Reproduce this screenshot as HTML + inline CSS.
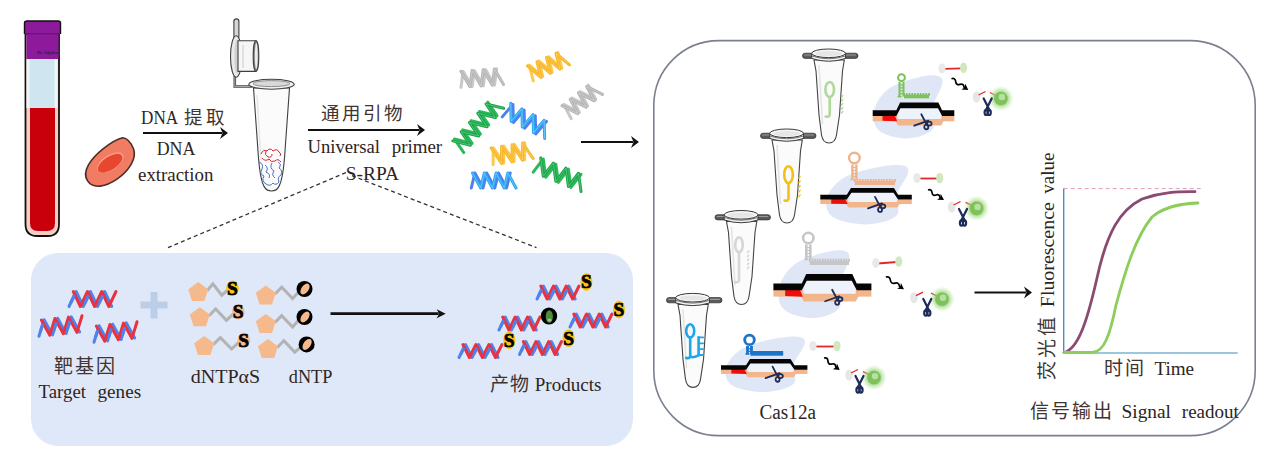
<!DOCTYPE html>
<html lang="zh-CN"><head><meta charset="utf-8"><title>S-RPA Cas12a</title>
<style>html,body{margin:0;padding:0;background:#fff;width:1270px;height:455px;overflow:hidden}svg{display:block}text{font-family:"Liberation Serif",serif}</style>
</head><body>
<svg width="1270" height="455" viewBox="0 0 1270 455"><defs><radialGradient id="glow"><stop offset="0.45" stop-color="#8fd070" stop-opacity="0.9"/><stop offset="1" stop-color="#c8ecb4" stop-opacity="0"/></radialGradient></defs><rect x="653.8" y="40.6" width="601.4" height="395" rx="65" ry="65" fill="none" stroke="#7b8090" stroke-width="1.6"/>
<rect x="31" y="253" width="602" height="193" rx="27" ry="27" fill="#dfe8f8"/>
<g>
<path d="M25.5,34 L25.5,224 Q25.5,236 37,236 L48,236 Q59,236 59,224 L59,34 Z" fill="#f6cfc4" stroke="#111" stroke-width="1.8"/>
<rect x="26.5" y="34" width="32" height="25" fill="#8d1a9b"/>
<rect x="27" y="59" width="31" height="49" fill="#cfe5ef"/>
<rect x="26.5" y="59" width="3" height="49" fill="#eef6fa"/>
<rect x="54.5" y="59" width="3" height="49" fill="#eef6fa"/>
<path d="M30,108 L55,108 L55,223 Q55,231 47,231 L38,231 Q30,231 30,223 Z" fill="#c9000b"/>
<path d="M24.5,34 L24.5,23 Q24.5,21 27,21 L58,21 Q60.5,21 60.5,23 L60.5,34" fill="#8d1a9b" stroke="#111" stroke-width="1.4"/><rect x="25.5" y="33" width="34" height="1.4" fill="#6f1180"/>
<text x="37" y="54" font-size="5" font-weight="bold" fill="#2a2a2a" font-family="Liberation Sans, sans-serif" textLength="21" lengthAdjust="spacingAndGlyphs">BcAlpha</text>
</g>
<g transform="translate(110,164) rotate(-33)">
<path d="M-28,2 C-28,-10 -12,-15 2,-16.5 C14,-17.5 20,-17 25,-15 C29,-12 29,-6 28,0 C26,10 12,16 -2,16.5 C-16,17 -28,12 -28,2 Z" fill="#f27c63" stroke="#4a2f28" stroke-width="1.6"/>
<ellipse cx="1" cy="-1" rx="15" ry="7.5" fill="#f9a08c"/>
<ellipse cx="0.5" cy="-0.5" rx="14" ry="6.6" fill="#e8462e"/>
</g>
<line x1="143" y1="133" x2="222" y2="133" stroke="#111" stroke-width="2.2"/>
<path d="M228,133 L220,127 L222.5,133 L220,139 Z" fill="#111"/>
<g stroke="#3f3f3f" stroke-width="1.1">
<rect x="233.9" y="18.9" width="5" height="20" rx="2.5" fill="#d6d6d6"/>
<path d="M234.8,76 L234.8,86.5 L252,86.5" fill="none" stroke="#4a4a4a" stroke-width="2.6"/>
<path d="M234.8,76 L234.8,86.5 L252,86.5" fill="none" stroke="#bdbdbd" stroke-width="0.8"/>
<ellipse cx="236.2" cy="56.5" rx="5.7" ry="20.8" fill="#e9e9e9"/>
<ellipse cx="237" cy="56.5" rx="2.6" ry="17" fill="#d0d0d0" stroke="none"/>
<path d="M238,40.7 L256,40.7 L256,71.4 L238,71.4 Z" fill="#f6f6f6"/>
<path d="M243,45 L243,68" stroke="#d8d8d8" stroke-width="1.5"/>
<ellipse cx="256" cy="56" rx="2.8" ry="15.3" fill="#8a8a8a"/>
<ellipse cx="256.3" cy="56" rx="1.4" ry="13" fill="#eee" stroke="none"/>
<path d="M253.5,88 L289.5,88 L284.5,158 C282,189 277,191 271.5,191 C266,191 261,189 258.5,158 Z" fill="#fbfbfb"/>
<path d="M257,95 L261,160" stroke="#e6e6e6" stroke-width="1.5"/>
<ellipse cx="271.5" cy="84.2" rx="22.7" ry="5" fill="#f2f2f2"/>
<ellipse cx="271.5" cy="83.6" rx="18.5" ry="3" fill="#d9d9d9" stroke="#777" stroke-width="0.8"/>
</g>
<path d="M261,154 q2,-5 6,-3 q3,-4 6,0 q4,-3 6,1 q3,2 1,4 M262,158 q3,4 7,1 q2,4 6,2 q3,-3 6,1 M266,151 q-2,4 2,6 q4,1 4,-3" fill="none" stroke="#e0202a" stroke-width="1"/>
<path d="M259,162 q5,2 3,7 q-3,5 2,7 q-3,5 2,8 q4,3 7,-1 q3,3 6,-1 q-2,-5 2,-7 q2,-5 -2,-7 q3,-4 -1,-6 M265,165 q4,3 1,7 q5,2 3,6 M272,163 q-3,5 2,8 q-3,4 1,7" fill="none" stroke="#4a70c8" stroke-width="1"/>
<line x1="308" y1="130" x2="419" y2="130" stroke="#111" stroke-width="2.2"/>
<path d="M425,130 L417,124 L419.5,130 L417,136 Z" fill="#111"/>
<path d="M168,247.6 L346,172.6 M352,175.7 L536.5,247.6" stroke="#333" stroke-width="1.3" stroke-dasharray="4,3" fill="none"/>
<g transform="rotate(-4 480.5 78.0) translate(458,70)"><path d="M2.40,16.00 L5.61,0.00 L13.61,16.00 L16.82,0.00 L24.82,16.00 L28.03,0.00 L36.03,16.00 L39.24,0.00" fill="none" stroke="#c8c8c8" stroke-width="3" stroke-linejoin="round" stroke-linecap="round"/><path d="M3.36,0.00 L11.37,16.00 L14.57,0.00 L22.58,16.00 L25.78,0.00 L33.79,16.00 L36.99,0.00 L45.00,16.00" fill="none" stroke="#b4b4b4" stroke-width="3" stroke-linejoin="round" stroke-linecap="round"/><path d="M3.36,0.00 L11.37,16.00 L14.57,0.00 L22.58,16.00 L25.78,0.00 L33.79,16.00 L36.99,0.00 L45.00,16.00" fill="none" stroke="#eee" stroke-width="0.6" opacity="0.6"/></g>
<g transform="rotate(-24 547.0 66.0) translate(526,58)"><path d="M2.40,16.00 L5.21,0.00 L12.82,16.00 L15.63,0.00 L23.24,16.00 L26.05,0.00 L33.66,16.00 L36.47,0.00" fill="none" stroke="#ffc84a" stroke-width="3" stroke-linejoin="round" stroke-linecap="round"/><path d="M3.13,0.00 L10.74,16.00 L13.55,0.00 L21.16,16.00 L23.97,0.00 L31.58,16.00 L34.39,0.00 L42.00,16.00" fill="none" stroke="#f7b526" stroke-width="3" stroke-linejoin="round" stroke-linecap="round"/><path d="M3.13,0.00 L10.74,16.00 L13.55,0.00 L21.16,16.00 L23.97,0.00 L31.58,16.00 L34.39,0.00 L42.00,16.00" fill="none" stroke="#ffe9a8" stroke-width="0.6" opacity="0.6"/></g>
<g transform="rotate(-38 581.0 101.0) translate(560,93)"><path d="M2.40,16.00 L5.21,0.00 L12.82,16.00 L15.63,0.00 L23.24,16.00 L26.05,0.00 L33.66,16.00 L36.47,0.00" fill="none" stroke="#c8c8c8" stroke-width="3" stroke-linejoin="round" stroke-linecap="round"/><path d="M3.13,0.00 L10.74,16.00 L13.55,0.00 L21.16,16.00 L23.97,0.00 L31.58,16.00 L34.39,0.00 L42.00,16.00" fill="none" stroke="#b4b4b4" stroke-width="3" stroke-linejoin="round" stroke-linecap="round"/><path d="M3.13,0.00 L10.74,16.00 L13.55,0.00 L21.16,16.00 L23.97,0.00 L31.58,16.00 L34.39,0.00 L42.00,16.00" fill="none" stroke="#eee" stroke-width="0.6" opacity="0.6"/></g>
<g transform="rotate(-48 477.0 126.0) translate(446,118)"><path d="M2.40,16.00 L6.21,0.00 L14.82,16.00 L18.62,0.00 L27.23,16.00 L31.04,0.00 L39.65,16.00 L43.46,0.00 L52.07,16.00 L55.88,0.00" fill="none" stroke="#2bb95a" stroke-width="3" stroke-linejoin="round" stroke-linecap="round"/><path d="M3.73,0.00 L12.33,16.00 L16.14,0.00 L24.75,16.00 L28.56,0.00 L37.17,16.00 L40.98,0.00 L49.58,16.00 L53.39,0.00 L62.00,16.00" fill="none" stroke="#17a546" stroke-width="3" stroke-linejoin="round" stroke-linecap="round"/><path d="M3.73,0.00 L12.33,16.00 L16.14,0.00 L24.75,16.00 L28.56,0.00 L37.17,16.00 L40.98,0.00 L49.58,16.00 L53.39,0.00 L62.00,16.00" fill="none" stroke="#bfe9cc" stroke-width="0.6" opacity="0.6"/></g>
<g transform="rotate(27 526.0 120.0) translate(501,112)"><path d="M2.40,16.00 L6.26,0.00 L14.93,16.00 L18.79,0.00 L27.45,16.00 L31.32,0.00 L39.98,16.00 L43.84,0.00" fill="none" stroke="#4f7ff0" stroke-width="3" stroke-linejoin="round" stroke-linecap="round"/><path d="M3.76,0.00 L12.42,16.00 L16.28,0.00 L24.95,16.00 L28.81,0.00 L37.47,16.00 L41.34,0.00 L50.00,16.00" fill="none" stroke="#2aa8f0" stroke-width="3" stroke-linejoin="round" stroke-linecap="round"/><path d="M3.76,0.00 L12.42,16.00 L16.28,0.00 L24.95,16.00 L28.81,0.00 L37.47,16.00 L41.34,0.00 L50.00,16.00" fill="none" stroke="#cdeaff" stroke-width="0.6" opacity="0.6"/></g>
<g transform="rotate(-9 510.5 153.5) translate(489,145)"><path d="M2.55,17.00 L5.32,0.00 L13.19,17.00 L15.97,0.00 L23.84,17.00 L26.61,0.00 L34.48,17.00 L37.26,0.00" fill="none" stroke="#ffc84a" stroke-width="3" stroke-linejoin="round" stroke-linecap="round"/><path d="M3.19,0.00 L11.07,17.00 L13.84,0.00 L21.71,17.00 L24.48,0.00 L32.36,17.00 L35.13,0.00 L43.00,17.00" fill="none" stroke="#f7b526" stroke-width="3" stroke-linejoin="round" stroke-linecap="round"/><path d="M3.19,0.00 L11.07,17.00 L13.84,0.00 L21.71,17.00 L24.48,0.00 L32.36,17.00 L35.13,0.00 L43.00,17.00" fill="none" stroke="#ffe9a8" stroke-width="0.6" opacity="0.6"/></g>
<g transform="rotate(0 492.5 180.5) translate(469,173)"><path d="M2.25,15.00 L5.89,0.00 L14.03,15.00 L17.66,0.00 L25.80,15.00 L29.44,0.00 L37.58,15.00 L41.22,0.00" fill="none" stroke="#4f7ff0" stroke-width="3" stroke-linejoin="round" stroke-linecap="round"/><path d="M3.53,0.00 L11.67,15.00 L15.31,0.00 L23.45,15.00 L27.09,0.00 L35.22,15.00 L38.86,0.00 L47.00,15.00" fill="none" stroke="#2aa8f0" stroke-width="3" stroke-linejoin="round" stroke-linecap="round"/><path d="M3.53,0.00 L11.67,15.00 L15.31,0.00 L23.45,15.00 L27.09,0.00 L35.22,15.00 L38.86,0.00 L47.00,15.00" fill="none" stroke="#cdeaff" stroke-width="0.6" opacity="0.6"/></g>
<g transform="rotate(22 559.0 174.0) translate(532,166)"><path d="M2.40,16.00 L6.79,0.00 L15.98,16.00 L20.37,0.00 L29.56,16.00 L33.95,0.00 L43.14,16.00 L47.53,0.00" fill="none" stroke="#2bb95a" stroke-width="3" stroke-linejoin="round" stroke-linecap="round"/><path d="M4.07,0.00 L13.26,16.00 L17.65,0.00 L26.84,16.00 L31.23,0.00 L40.42,16.00 L44.81,0.00 L54.00,16.00" fill="none" stroke="#17a546" stroke-width="3" stroke-linejoin="round" stroke-linecap="round"/><path d="M4.07,0.00 L13.26,16.00 L17.65,0.00 L26.84,16.00 L31.23,0.00 L40.42,16.00 L44.81,0.00 L54.00,16.00" fill="none" stroke="#bfe9cc" stroke-width="0.6" opacity="0.6"/></g>
<line x1="581" y1="142" x2="633" y2="142" stroke="#111" stroke-width="2.2"/>
<path d="M639,142 L631,136 L633.5,142 L631,148 Z" fill="#111"/>
<g transform="rotate(0 92.5 299.0) translate(69,291.5)"><path d="M0.00,15.00 L7.12,0.00 L14.24,15.00 L21.36,0.00 L28.48,15.00 L35.61,0.00 L42.73,15.00" fill="none" stroke="#4f82ea" stroke-width="3.0" stroke-linejoin="round" stroke-linecap="round"/><path d="M4.27,0.00 L11.39,15.00 L18.52,0.00 L25.64,15.00 L32.76,0.00 L39.88,15.00 L47.00,0.00" fill="none" stroke="#e8323f" stroke-width="3.0" stroke-linejoin="round" stroke-linecap="round"/><path d="M1.78,11.25 L5.34,3.75 M16.02,11.25 L19.58,3.75 M30.26,11.25 L33.83,3.75 " fill="none" stroke="#4f82ea" stroke-width="3.0" stroke-linecap="butt"/></g>
<g transform="rotate(-6 60.5 326.0) translate(38,318)"><path d="M0.00,16.00 L6.82,0.00 L13.64,16.00 L20.45,0.00 L27.27,16.00 L34.09,0.00 L40.91,16.00" fill="none" stroke="#4f82ea" stroke-width="3.0" stroke-linejoin="round" stroke-linecap="round"/><path d="M4.09,0.00 L10.91,16.00 L17.73,0.00 L24.55,16.00 L31.36,0.00 L38.18,16.00 L45.00,0.00" fill="none" stroke="#e8323f" stroke-width="3.0" stroke-linejoin="round" stroke-linecap="round"/><path d="M1.71,12.00 L5.12,4.00 M15.34,12.00 L18.75,4.00 M28.98,12.00 L32.39,4.00 " fill="none" stroke="#4f82ea" stroke-width="3.0" stroke-linecap="butt"/></g>
<g transform="rotate(-6 115.5 332.0) translate(93,324)"><path d="M0.00,16.00 L6.82,0.00 L13.64,16.00 L20.45,0.00 L27.27,16.00 L34.09,0.00 L40.91,16.00" fill="none" stroke="#4f82ea" stroke-width="3.0" stroke-linejoin="round" stroke-linecap="round"/><path d="M4.09,0.00 L10.91,16.00 L17.73,0.00 L24.55,16.00 L31.36,0.00 L38.18,16.00 L45.00,0.00" fill="none" stroke="#e8323f" stroke-width="3.0" stroke-linejoin="round" stroke-linecap="round"/><path d="M1.71,12.00 L5.12,4.00 M15.34,12.00 L18.75,4.00 M28.98,12.00 L32.39,4.00 " fill="none" stroke="#4f82ea" stroke-width="3.0" stroke-linecap="butt"/></g>
<path d="M150.5,292 h7 v9.5 h10 v7 h-10 v10 h-7 v-10 h-10 v-7 h10 z" fill="#bccde8"/>
<path d="M207.2,290.8 L212.9,283.8 L221.8,295.2 L227.5,290.2" fill="none" stroke="#b3b3b3" stroke-width="3" stroke-linejoin="miter"/>
<polygon points="198.2,282.1 208.2,289.4 204.4,301.1 192.0,301.1 188.2,289.4" fill="#f6b98b"/>
<ellipse cx="232.5" cy="288.2" rx="6.3" ry="7.6" fill="#f7c31c"/>
<text x="232.5" y="294.7" text-anchor="middle" font-size="19.5" font-weight="bold" fill="#000" stroke="#000" stroke-width="0.7">S</text>
<path d="M208.8,316.0 L215.7,309.0 L226.4,320.4 L233.3,313.8" fill="none" stroke="#b3b3b3" stroke-width="3" stroke-linejoin="miter"/>
<polygon points="199.8,307.3 209.8,314.6 206.0,326.3 193.6,326.3 189.8,314.6" fill="#f6b98b"/>
<ellipse cx="238.3" cy="311.8" rx="6.3" ry="7.6" fill="#f6b98b"/>
<text x="238.3" y="318.3" text-anchor="middle" font-size="19.5" font-weight="bold" fill="#000" stroke="#000" stroke-width="0.7">S</text>
<path d="M213.2,344.6 L220.4,337.59999999999997 L231.6,348.99999999999994 L238.8,342.4" fill="none" stroke="#b3b3b3" stroke-width="3" stroke-linejoin="miter"/>
<polygon points="204.2,335.9 214.2,343.2 210.4,354.9 198.0,354.9 194.2,343.2" fill="#f6b98b"/>
<ellipse cx="243.8" cy="340.4" rx="6.3" ry="7.6" fill="#f6b98b"/>
<text x="243.8" y="346.9" text-anchor="middle" font-size="19.5" font-weight="bold" fill="#000" stroke="#000" stroke-width="0.7">S</text>
<path d="M274.8,294.2 L281.7,287.2 L292.6,298.59999999999997 L299.5,291.0" fill="none" stroke="#b3b3b3" stroke-width="3" stroke-linejoin="miter"/>
<polygon points="265.8,285.5 275.8,292.8 272.0,304.5 259.6,304.5 255.8,292.8" fill="#f6b98b"/>
<circle cx="304.5" cy="289" r="8" fill="#000"/>
<ellipse cx="305.0" cy="289" rx="3.6" ry="6.2" transform="rotate(35 305.0 289)" fill="#f6b98b"/>
<path d="M274.8,322.6 L281.7,315.59999999999997 L292.6,326.99999999999994 L299.5,319.0" fill="none" stroke="#b3b3b3" stroke-width="3" stroke-linejoin="miter"/>
<polygon points="265.8,313.9 275.8,321.2 272.0,332.9 259.6,332.9 255.8,321.2" fill="#f6b98b"/>
<circle cx="304.5" cy="317" r="8" fill="#000"/>
<ellipse cx="305.0" cy="317" rx="3.6" ry="6.2" transform="rotate(35 305.0 317)" fill="#f6b98b"/>
<path d="M277.0,347.7 L283.9,340.7 L294.7,352.09999999999997 L301.6,346.4" fill="none" stroke="#b3b3b3" stroke-width="3" stroke-linejoin="miter"/>
<polygon points="268.0,339.0 278.0,346.3 274.2,358.0 261.8,358.0 258.0,346.3" fill="#f6b98b"/>
<circle cx="306.6" cy="344.4" r="8" fill="#000"/>
<ellipse cx="307.1" cy="344.4" rx="3.6" ry="6.2" transform="rotate(35 307.1 344.4)" fill="#f6b98b"/>
<line x1="330.5" y1="313.7" x2="438.7" y2="313.7" stroke="#111" stroke-width="2.8"/>
<path d="M445.7,313.7 L436.7,309.2 L439.2,313.7 L436.7,318.2 Z" fill="#111"/>
<g transform="rotate(0 558.0 292.5) translate(537,286)"><path d="M0.00,13.00 L6.36,0.00 L12.73,13.00 L19.09,0.00 L25.45,13.00 L31.82,0.00 L38.18,13.00" fill="none" stroke="#4f82ea" stroke-width="3.0" stroke-linejoin="round" stroke-linecap="round"/><path d="M3.82,0.00 L10.18,13.00 L16.55,0.00 L22.91,13.00 L29.27,0.00 L35.64,13.00 L42.00,0.00" fill="none" stroke="#e8323f" stroke-width="3.0" stroke-linejoin="round" stroke-linecap="round"/><path d="M1.59,9.75 L4.77,3.25 M14.32,9.75 L17.50,3.25 M27.04,9.75 L30.23,3.25 " fill="none" stroke="#4f82ea" stroke-width="3.0" stroke-linecap="butt"/></g>
<ellipse cx="586.4" cy="281.9" rx="6" ry="9" fill="#f7c31c"/>
<text x="586.4" y="288.4" text-anchor="middle" font-size="19.5" font-weight="bold" fill="#000" stroke="#000" stroke-width="0.7">S</text>
<g transform="rotate(0 519.5 323.5) translate(499,317)"><path d="M0.00,13.00 L6.21,0.00 L12.42,13.00 L18.64,0.00 L24.85,13.00 L31.06,0.00 L37.27,13.00" fill="none" stroke="#4f82ea" stroke-width="3.0" stroke-linejoin="round" stroke-linecap="round"/><path d="M3.73,0.00 L9.94,13.00 L16.15,0.00 L22.36,13.00 L28.58,0.00 L34.79,13.00 L41.00,0.00" fill="none" stroke="#e8323f" stroke-width="3.0" stroke-linejoin="round" stroke-linecap="round"/><path d="M1.55,9.75 L4.66,3.25 M13.97,9.75 L17.09,3.25 M26.40,9.75 L29.51,3.25 " fill="none" stroke="#4f82ea" stroke-width="3.0" stroke-linecap="butt"/></g>
<ellipse cx="549" cy="316" rx="8.2" ry="8.6" fill="#000"/><ellipse cx="549.3" cy="316.5" rx="3.6" ry="6.3" fill="#4e8c3c"/><ellipse cx="549.5" cy="320" rx="2.2" ry="1.6" fill="#9cc58a"/>
<g transform="rotate(0 591.0 320.5) translate(570,314)"><path d="M0.00,13.00 L6.36,0.00 L12.73,13.00 L19.09,0.00 L25.45,13.00 L31.82,0.00 L38.18,13.00" fill="none" stroke="#4f82ea" stroke-width="3.0" stroke-linejoin="round" stroke-linecap="round"/><path d="M3.82,0.00 L10.18,13.00 L16.55,0.00 L22.91,13.00 L29.27,0.00 L35.64,13.00 L42.00,0.00" fill="none" stroke="#e8323f" stroke-width="3.0" stroke-linejoin="round" stroke-linecap="round"/><path d="M1.59,9.75 L4.77,3.25 M14.32,9.75 L17.50,3.25 M27.04,9.75 L30.23,3.25 " fill="none" stroke="#4f82ea" stroke-width="3.0" stroke-linecap="butt"/></g>
<ellipse cx="619" cy="309.5" rx="6" ry="9" fill="#f7c31c"/>
<text x="619" y="316.0" text-anchor="middle" font-size="19.5" font-weight="bold" fill="#000" stroke="#000" stroke-width="0.7">S</text>
<g transform="rotate(0 480.5 351.0) translate(459,344.5)"><path d="M0.00,13.00 L6.52,0.00 L13.03,13.00 L19.55,0.00 L26.06,13.00 L32.58,0.00 L39.09,13.00" fill="none" stroke="#4f82ea" stroke-width="3.0" stroke-linejoin="round" stroke-linecap="round"/><path d="M3.91,0.00 L10.42,13.00 L16.94,0.00 L23.45,13.00 L29.97,0.00 L36.48,13.00 L43.00,0.00" fill="none" stroke="#e8323f" stroke-width="3.0" stroke-linejoin="round" stroke-linecap="round"/><path d="M1.63,9.75 L4.89,3.25 M14.66,9.75 L17.92,3.25 M27.69,9.75 L30.95,3.25 " fill="none" stroke="#4f82ea" stroke-width="3.0" stroke-linecap="butt"/></g>
<ellipse cx="509.3" cy="340.2" rx="6" ry="9" fill="#f7c31c"/>
<text x="509.3" y="346.7" text-anchor="middle" font-size="19.5" font-weight="bold" fill="#000" stroke="#000" stroke-width="0.7">S</text>
<g transform="rotate(0 540.5 348.0) translate(519.5,341.5)"><path d="M0.00,13.00 L6.36,0.00 L12.73,13.00 L19.09,0.00 L25.45,13.00 L31.82,0.00 L38.18,13.00" fill="none" stroke="#4f82ea" stroke-width="3.0" stroke-linejoin="round" stroke-linecap="round"/><path d="M3.82,0.00 L10.18,13.00 L16.55,0.00 L22.91,13.00 L29.27,0.00 L35.64,13.00 L42.00,0.00" fill="none" stroke="#e8323f" stroke-width="3.0" stroke-linejoin="round" stroke-linecap="round"/><path d="M1.59,9.75 L4.77,3.25 M14.32,9.75 L17.50,3.25 M27.04,9.75 L30.23,3.25 " fill="none" stroke="#4f82ea" stroke-width="3.0" stroke-linecap="butt"/></g>
<ellipse cx="568.6" cy="338.2" rx="6" ry="9" fill="#f7c31c"/>
<text x="568.6" y="344.7" text-anchor="middle" font-size="19.5" font-weight="bold" fill="#000" stroke="#000" stroke-width="0.7">S</text>
<g transform="translate(802,49)"><path d="M12,11 L42.3,11 L40.5,22 L37.5,66 L34.5,86 C33.5,92 30.5,94 27,94 C23.5,94 20.5,92 19.5,86 L17,66 L14,22 Z" fill="#fbfbfb" stroke="#444" stroke-width="1.1"/><path d="M17,16 L20.5,75" stroke="#e4e4e4" stroke-width="1.6"/><rect x="0.5" y="4.2" width="55.5" height="5.2" rx="2.6" fill="#5a5a5a" stroke="#2e2e2e" stroke-width="0.7"/><rect x="2" y="5.4" width="52" height="1.2" rx="0.6" fill="#9a9a9a"/><path d="M9.7,4.3 L9.7,9.5 Q26.6,15 43.5,9.5 L43.5,4.3 Z" fill="#f3f3f3" stroke="#3a3a3a" stroke-width="1"/><path d="M9.7,7 Q26.6,12.5 43.5,7" fill="none" stroke="#555" stroke-width="0.8"/><ellipse cx="26.6" cy="4.3" rx="16.9" ry="4.3" fill="#f7f7f7" stroke="#3a3a3a" stroke-width="1"/><ellipse cx="26.6" cy="4.6" rx="13.5" ry="2.6" fill="#e6e6e6"/><g fill="none" stroke="#a3d48a" stroke-width="2.6" opacity="0.85" stroke-linecap="round"><ellipse cx="27.7" cy="40.5" rx="4.3" ry="7.5"/><path d="M27.7,48.0 L27.7,66 Q26.7,68.5 23.7,67.5"/><path d="M39.5,48.0 l1.2,-1.5" stroke-width="1.5"/><path d="M39.5,52.0 l1.2,-1.5" stroke-width="1.5"/><path d="M39.5,56.0 l1.2,-1.5" stroke-width="1.5"/><path d="M39.5,60.0 l1.2,-1.5" stroke-width="1.5"/><path d="M39.5,64.0 l1.2,-1.5" stroke-width="1.5"/></g></g>
<g transform="translate(760,129)"><path d="M12,11 L42.3,11 L40.5,22 L37.5,66 L34.5,86 C33.5,92 30.5,94 27,94 C23.5,94 20.5,92 19.5,86 L17,66 L14,22 Z" fill="#fbfbfb" stroke="#444" stroke-width="1.1"/><path d="M17,16 L20.5,75" stroke="#e4e4e4" stroke-width="1.6"/><rect x="0.5" y="4.2" width="55.5" height="5.2" rx="2.6" fill="#5a5a5a" stroke="#2e2e2e" stroke-width="0.7"/><rect x="2" y="5.4" width="52" height="1.2" rx="0.6" fill="#9a9a9a"/><path d="M9.7,4.3 L9.7,9.5 Q26.6,15 43.5,9.5 L43.5,4.3 Z" fill="#f3f3f3" stroke="#3a3a3a" stroke-width="1"/><path d="M9.7,7 Q26.6,12.5 43.5,7" fill="none" stroke="#555" stroke-width="0.8"/><ellipse cx="26.6" cy="4.3" rx="16.9" ry="4.3" fill="#f7f7f7" stroke="#3a3a3a" stroke-width="1"/><ellipse cx="26.6" cy="4.6" rx="13.5" ry="2.6" fill="#e6e6e6"/><g fill="none" stroke="#f3c01a" stroke-width="2.6" opacity="1" stroke-linecap="round"><ellipse cx="28.5" cy="45.7" rx="4.3" ry="8.5"/><path d="M28.5,54.2 L28.5,70 Q27.5,72.5 24.5,71.5"/><path d="M38.9,49.0 l1.2,-1.5" stroke-width="1.5"/><path d="M38.9,53.6 l1.2,-1.5" stroke-width="1.5"/><path d="M38.9,58.3 l1.2,-1.5" stroke-width="1.5"/><path d="M38.9,62.9 l1.2,-1.5" stroke-width="1.5"/><path d="M38.9,67.6 l1.2,-1.5" stroke-width="1.5"/></g></g>
<g transform="translate(714.5,210.5)"><path d="M12,11 L42.3,11 L40.5,22 L37.5,66 L34.5,86 C33.5,92 30.5,94 27,94 C23.5,94 20.5,92 19.5,86 L17,66 L14,22 Z" fill="#fbfbfb" stroke="#444" stroke-width="1.1"/><path d="M17,16 L20.5,75" stroke="#e4e4e4" stroke-width="1.6"/><rect x="0.5" y="4.2" width="55.5" height="5.2" rx="2.6" fill="#5a5a5a" stroke="#2e2e2e" stroke-width="0.7"/><rect x="2" y="5.4" width="52" height="1.2" rx="0.6" fill="#9a9a9a"/><path d="M9.7,4.3 L9.7,9.5 Q26.6,15 43.5,9.5 L43.5,4.3 Z" fill="#f3f3f3" stroke="#3a3a3a" stroke-width="1"/><path d="M9.7,7 Q26.6,12.5 43.5,7" fill="none" stroke="#555" stroke-width="0.8"/><ellipse cx="26.6" cy="4.3" rx="16.9" ry="4.3" fill="#f7f7f7" stroke="#3a3a3a" stroke-width="1"/><ellipse cx="26.6" cy="4.6" rx="13.5" ry="2.6" fill="#e6e6e6"/><g fill="none" stroke="#d6d6d6" stroke-width="2.6" opacity="1" stroke-linecap="round"><ellipse cx="24.5" cy="34.4" rx="3.8" ry="7.5"/><path d="M24.5,41.9 L24.5,70 Q23.5,72.5 20.5,71.5"/><path d="M33,42.0 l1.2,-1.5" stroke-width="1.5"/><path d="M33,46.0 l1.2,-1.5" stroke-width="1.5"/><path d="M33,50.0 l1.2,-1.5" stroke-width="1.5"/><path d="M33,54.0 l1.2,-1.5" stroke-width="1.5"/><path d="M33,58.0 l1.2,-1.5" stroke-width="1.5"/></g></g>
<g transform="translate(666,293.4)"><path d="M12,11 L42.3,11 L40.5,22 L37.5,66 L34.5,86 C33.5,92 30.5,94 27,94 C23.5,94 20.5,92 19.5,86 L17,66 L14,22 Z" fill="#fbfbfb" stroke="#444" stroke-width="1.1"/><path d="M17,16 L20.5,75" stroke="#e4e4e4" stroke-width="1.6"/><rect x="0.5" y="4.2" width="55.5" height="5.2" rx="2.6" fill="#5a5a5a" stroke="#2e2e2e" stroke-width="0.7"/><rect x="2" y="5.4" width="52" height="1.2" rx="0.6" fill="#9a9a9a"/><path d="M9.7,4.3 L9.7,9.5 Q26.6,15 43.5,9.5 L43.5,4.3 Z" fill="#f3f3f3" stroke="#3a3a3a" stroke-width="1"/><path d="M9.7,7 Q26.6,12.5 43.5,7" fill="none" stroke="#555" stroke-width="0.8"/><ellipse cx="26.6" cy="4.3" rx="16.9" ry="4.3" fill="#f7f7f7" stroke="#3a3a3a" stroke-width="1"/><ellipse cx="26.6" cy="4.6" rx="13.5" ry="2.6" fill="#e6e6e6"/><g fill="none" stroke="#1ea6e6" stroke-width="2.6" opacity="1" stroke-linecap="round"><ellipse cx="24.2" cy="37.5" rx="4" ry="6.6"/><path d="M24.2,44.1 L24.2,63 Q23.2,65.5 20.2,64.5"/><path d="M24.2,63 Q26.2,65 32.6,62 L32.6,44"/><path d="M32.6,44.0 h4.5" stroke-width="1.8"/><path d="M32.6,49.9 h4.5" stroke-width="1.8"/><path d="M32.6,55.7 h4.5" stroke-width="1.8"/><path d="M32.6,61.6 h4.5" stroke-width="1.8"/></g></g>
<g><path d="M938.11,75.90 C941.97,77.05 943.11,78.82 942.20,84.02 C941.29,89.23 934.24,99.65 932.65,107.15 C931.06,114.65 936.74,123.82 932.65,129.02 C928.56,134.23 916.97,138.09 908.10,138.40 C899.23,138.71 885.14,135.59 879.46,130.90 C873.77,126.21 872.41,117.36 874.00,110.27 C875.59,103.19 881.50,93.92 889.00,88.40 C896.51,82.88 910.83,79.23 919.01,77.15 C927.20,75.07 934.24,74.75 938.11,75.90 Z" fill="#dfe7f7"/><rect x="898.81" y="107.62" width="42.43" height="11.86" fill="#eef3fb"/><rect x="872.70" y="115.82" width="24.48" height="5.47" fill="#f3b68c"/><rect x="941.24" y="115.82" width="13.06" height="5.47" fill="#f3b68c"/><path d="M895.55,116.28 L898.00,119.02 L941.24,119.02 L943.69,116.28 L943.69,120.84 L941.24,125.40 L898.00,125.40 L895.55,120.84 Z" fill="#f3b68c"/><path d="M882.49,114.91 L894.73,115.37 L897.18,121.30 L882.49,120.84 Z" fill="#ee0d0d"/><path d="M872.70,110.35 L896.36,110.35 L900.04,102.60 L938.39,102.60 L942.06,110.35 L954.30,110.35 L954.30,116.05 L942.06,116.05 L937.98,108.19 L900.44,108.19 L896.36,116.05 L872.70,116.05 Z" fill="#050505"/><g transform="translate(923.29,122.21)" fill="none" stroke="#1c2b58" stroke-width="1.8" stroke-linecap="round"><path d="M-9,3.5 L5,-1.5 M-2,-8 L3.5,2.5"/><ellipse cx="6" cy="1.5" rx="2.3" ry="2"/><ellipse cx="3" cy="4.8" rx="2" ry="2.3"/></g><g fill="none" stroke="#7cc15a" stroke-width="2.0"><circle cx="901.50" cy="77.70" r="3.40"/><path d="M899.50,82.10 V96.60 M903.50,82.10 V96.60"/><path d="M899.50,85.00 h4" stroke-width="1.2"/><path d="M899.50,87.90 h4" stroke-width="1.2"/><path d="M899.50,90.80 h4" stroke-width="1.2"/><path d="M899.50,93.70 h4" stroke-width="1.2"/><path d="M897.50,96.60 H901.50" stroke-width="1.6"/></g><rect x="904.00" y="94.66" width="25.00" height="3.64" fill="#7cc15a"/><rect x="903.10" y="93.10" width="1.8" height="2.60" fill="#7cc15a"/><rect x="905.88" y="93.10" width="1.8" height="2.60" fill="#7cc15a"/><rect x="908.66" y="93.10" width="1.8" height="2.60" fill="#7cc15a"/><rect x="911.43" y="93.10" width="1.8" height="2.60" fill="#7cc15a"/><rect x="914.21" y="93.10" width="1.8" height="2.60" fill="#7cc15a"/><rect x="916.99" y="93.10" width="1.8" height="2.60" fill="#7cc15a"/><rect x="919.77" y="93.10" width="1.8" height="2.60" fill="#7cc15a"/><rect x="922.54" y="93.10" width="1.8" height="2.60" fill="#7cc15a"/><rect x="925.32" y="93.10" width="1.8" height="2.60" fill="#7cc15a"/><rect x="928.10" y="93.10" width="1.8" height="2.60" fill="#7cc15a"/></g>
<g><path d="M903.13,165.50 C907.73,166.58 909.08,168.25 908.00,173.16 C906.92,178.07 898.53,187.88 896.63,194.95 C894.74,202.02 901.50,210.66 896.63,215.56 C891.76,220.47 877.96,224.11 867.40,224.40 C856.84,224.69 840.06,221.75 833.30,217.33 C826.53,212.91 824.91,204.57 826.80,197.90 C828.69,191.22 835.73,182.48 844.66,177.28 C853.60,172.08 870.65,168.64 880.39,166.68 C890.14,164.71 898.53,164.42 903.13,165.50 Z" fill="#dfe7f7"/><rect x="849.58" y="192.31" width="47.58" height="10.19" fill="#eef3fb"/><rect x="820.30" y="199.37" width="27.45" height="4.70" fill="#f3b68c"/><rect x="897.16" y="199.37" width="14.64" height="4.70" fill="#f3b68c"/><path d="M845.92,199.76 L848.66,202.11 L897.16,202.11 L899.90,199.76 L899.90,203.68 L897.16,207.60 L848.66,207.60 L845.92,203.68 Z" fill="#f3b68c"/><path d="M831.28,198.58 L845.00,198.98 L847.75,204.07 L831.28,203.68 Z" fill="#ee0d0d"/><path d="M820.30,194.66 L846.83,194.66 L850.95,188.00 L893.96,188.00 L898.07,194.66 L911.80,194.66 L911.80,199.56 L898.07,199.56 L893.50,192.80 L851.41,192.80 L846.83,199.56 L820.30,199.56 Z" fill="#050505"/><g transform="translate(877.03,204.86)" fill="none" stroke="#1c2b58" stroke-width="1.8" stroke-linecap="round"><path d="M-9,3.5 L5,-1.5 M-2,-8 L3.5,2.5"/><ellipse cx="6" cy="1.5" rx="2.3" ry="2"/><ellipse cx="3" cy="4.8" rx="2" ry="2.3"/></g><g fill="none" stroke="#efb28a" stroke-width="2.4"><circle cx="854.40" cy="158.00" r="5.30"/><path d="M852.40,164.50 V179.50 M856.40,164.50 V179.50"/><path d="M852.40,167.50 h4" stroke-width="1.2"/><path d="M852.40,170.50 h4" stroke-width="1.2"/><path d="M852.40,173.50 h4" stroke-width="1.2"/><path d="M852.40,176.50 h4" stroke-width="1.2"/><path d="M850.40,179.50 H854.40" stroke-width="1.6"/></g><rect x="854.80" y="180.80" width="40.20" height="4.20" fill="#efb28a"/><rect x="853.90" y="179.00" width="1.8" height="3.00" fill="#efb28a"/><rect x="856.58" y="179.00" width="1.8" height="3.00" fill="#efb28a"/><rect x="859.26" y="179.00" width="1.8" height="3.00" fill="#efb28a"/><rect x="861.94" y="179.00" width="1.8" height="3.00" fill="#efb28a"/><rect x="864.62" y="179.00" width="1.8" height="3.00" fill="#efb28a"/><rect x="867.30" y="179.00" width="1.8" height="3.00" fill="#efb28a"/><rect x="869.98" y="179.00" width="1.8" height="3.00" fill="#efb28a"/><rect x="872.66" y="179.00" width="1.8" height="3.00" fill="#efb28a"/><rect x="875.34" y="179.00" width="1.8" height="3.00" fill="#efb28a"/><rect x="878.02" y="179.00" width="1.8" height="3.00" fill="#efb28a"/><rect x="880.70" y="179.00" width="1.8" height="3.00" fill="#efb28a"/><rect x="883.38" y="179.00" width="1.8" height="3.00" fill="#efb28a"/><rect x="886.06" y="179.00" width="1.8" height="3.00" fill="#efb28a"/><rect x="888.74" y="179.00" width="1.8" height="3.00" fill="#efb28a"/><rect x="891.42" y="179.00" width="1.8" height="3.00" fill="#efb28a"/><rect x="894.10" y="179.00" width="1.8" height="3.00" fill="#efb28a"/></g>
<g><path d="M844.80,251.00 C848.77,252.23 849.93,254.13 849.00,259.71 C848.07,265.29 840.83,276.46 839.20,284.50 C837.57,292.54 843.40,302.37 839.20,307.95 C835.00,313.53 823.10,317.67 814.00,318.00 C804.90,318.33 790.43,314.98 784.60,309.96 C778.77,304.94 777.37,295.44 779.00,287.85 C780.63,280.26 786.70,270.32 794.40,264.40 C802.10,258.48 816.80,254.57 825.20,252.34 C833.60,250.11 840.83,249.77 844.80,251.00 Z" fill="#dfe7f7"/><rect x="804.76" y="280.07" width="50.96" height="14.35" fill="#eef3fb"/><rect x="773.40" y="290.01" width="29.40" height="6.62" fill="#f3b68c"/><rect x="855.72" y="290.01" width="15.68" height="6.62" fill="#f3b68c"/><path d="M800.84,290.56 L803.78,293.87 L855.72,293.87 L858.66,290.56 L858.66,296.08 L855.72,301.60 L803.78,301.60 L800.84,296.08 Z" fill="#f3b68c"/><path d="M785.16,288.90 L799.86,289.46 L802.80,296.63 L785.16,296.08 Z" fill="#ee0d0d"/><path d="M773.40,283.38 L801.82,283.38 L806.23,274.00 L852.29,274.00 L856.70,283.38 L871.40,283.38 L871.40,290.28 L856.70,290.28 L851.80,280.76 L806.72,280.76 L801.82,290.28 L773.40,290.28 Z" fill="#050505"/><g transform="translate(834.16,297.74)" fill="none" stroke="#1c2b58" stroke-width="1.8" stroke-linecap="round"><path d="M-9,3.5 L5,-1.5 M-2,-8 L3.5,2.5"/><ellipse cx="6" cy="1.5" rx="2.3" ry="2"/><ellipse cx="3" cy="4.8" rx="2" ry="2.3"/></g><g fill="none" stroke="#c6c6c6" stroke-width="2.6"><circle cx="808.30" cy="238.00" r="5.20"/><path d="M806.30,244.50 V259.50 M810.30,244.50 V259.50"/><path d="M806.30,247.50 h4" stroke-width="1.2"/><path d="M806.30,250.50 h4" stroke-width="1.2"/><path d="M806.30,253.50 h4" stroke-width="1.2"/><path d="M806.30,256.50 h4" stroke-width="1.2"/><path d="M804.30,259.50 H808.30" stroke-width="1.6"/></g><rect x="809.80" y="260.52" width="39.20" height="4.48" fill="#c6c6c6"/><rect x="808.90" y="258.60" width="1.8" height="3.20" fill="#c6c6c6"/><rect x="811.51" y="258.60" width="1.8" height="3.20" fill="#c6c6c6"/><rect x="814.13" y="258.60" width="1.8" height="3.20" fill="#c6c6c6"/><rect x="816.74" y="258.60" width="1.8" height="3.20" fill="#c6c6c6"/><rect x="819.35" y="258.60" width="1.8" height="3.20" fill="#c6c6c6"/><rect x="821.97" y="258.60" width="1.8" height="3.20" fill="#c6c6c6"/><rect x="824.58" y="258.60" width="1.8" height="3.20" fill="#c6c6c6"/><rect x="827.19" y="258.60" width="1.8" height="3.20" fill="#c6c6c6"/><rect x="829.81" y="258.60" width="1.8" height="3.20" fill="#c6c6c6"/><rect x="832.42" y="258.60" width="1.8" height="3.20" fill="#c6c6c6"/><rect x="835.03" y="258.60" width="1.8" height="3.20" fill="#c6c6c6"/><rect x="837.65" y="258.60" width="1.8" height="3.20" fill="#c6c6c6"/><rect x="840.26" y="258.60" width="1.8" height="3.20" fill="#c6c6c6"/><rect x="842.87" y="258.60" width="1.8" height="3.20" fill="#c6c6c6"/><rect x="845.49" y="258.60" width="1.8" height="3.20" fill="#c6c6c6"/><rect x="848.10" y="258.60" width="1.8" height="3.20" fill="#c6c6c6"/></g>
<g><path d="M799.88,337.00 C804.34,338.01 805.65,339.57 804.60,344.15 C803.55,348.73 795.43,357.90 793.60,364.50 C791.76,371.10 798.31,379.17 793.60,383.75 C788.88,388.33 775.52,391.73 765.30,392.00 C755.08,392.27 738.84,389.52 732.29,385.40 C725.74,381.27 724.17,373.48 726.00,367.25 C727.83,361.02 734.65,352.86 743.29,348.00 C751.94,343.14 768.44,339.93 777.88,338.10 C787.31,336.27 795.43,335.99 799.88,337.00 Z" fill="#dfe7f7"/><rect x="748.65" y="363.00" width="44.93" height="9.46" fill="#eef3fb"/><rect x="721.00" y="369.56" width="25.92" height="4.37" fill="#f3b68c"/><rect x="793.58" y="369.56" width="13.82" height="4.37" fill="#f3b68c"/><path d="M745.19,369.92 L747.78,372.10 L793.58,372.10 L796.17,369.92 L796.17,373.56 L793.58,377.20 L747.78,377.20 L745.19,373.56 Z" fill="#f3b68c"/><path d="M731.37,368.83 L744.33,369.19 L746.92,373.92 L731.37,373.56 Z" fill="#ee0d0d"/><path d="M721.00,365.19 L746.06,365.19 L749.94,359.00 L790.55,359.00 L794.44,365.19 L807.40,365.19 L807.40,369.74 L794.44,369.74 L790.12,363.46 L750.38,363.46 L746.06,369.74 L721.00,369.74 Z" fill="#050505"/><g transform="translate(774.57,374.65)" fill="none" stroke="#1c2b58" stroke-width="1.8" stroke-linecap="round"><path d="M-9,3.5 L5,-1.5 M-2,-8 L3.5,2.5"/><ellipse cx="6" cy="1.5" rx="2.3" ry="2"/><ellipse cx="3" cy="4.8" rx="2" ry="2.3"/></g><g fill="none" stroke="#1b74c8" stroke-width="2.8"><circle cx="749.50" cy="339.90" r="4.80"/><path d="M747.50,346.00 V354.00 M751.50,346.00 V354.00"/><path d="M747.50,348.67 h4" stroke-width="1.2"/><path d="M747.50,351.33 h4" stroke-width="1.2"/><path d="M745.50,354.00 H749.50" stroke-width="1.6"/></g><rect x="750.50" y="351.00" width="32.70" height="4.70" fill="#1b74c8"/></g>
<g><line x1="944" y1="68.9" x2="961.6" y2="68.30000000000001" stroke="#e3262a" stroke-width="1.8"/><ellipse cx="942" cy="68.4" rx="3.6" ry="5" fill="#e9e9e9"/><ellipse cx="963.6" cy="67.80000000000001" rx="3.6" ry="5.2" fill="#cfe8bf"/><g transform="translate(951.50,78.70) rotate(33.9)"><path d="M0,0 q2.43,-3 5.06,0 t5.06,0 t5.06,0 L16.25,0" fill="none" stroke="#000" stroke-width="1.7"/><path d="M20.25,0 L14.25,-3.5 L15.75,0 L14.25,3.5 Z" fill="#000"/></g><ellipse cx="976.50" cy="97.00" rx="3.8" ry="5.5" fill="#e6e6e6"/><path d="M978.50,95.00 L985.50,91.50 M989.90,92.50 L995.90,95.50" stroke="#e3262a" stroke-width="1.3"/><circle cx="1000.90" cy="98.50" r="13" fill="url(#glow)"/><circle cx="1000.90" cy="98.50" r="6.8" fill="#7fc25c"/><circle cx="1001.90" cy="97.00" r="3.2" fill="#b9e0a2"/><g transform="translate(987.70,106.40)" fill="none" stroke="#1c2b58" stroke-width="2.2" stroke-linecap="round"><path d="M-4,-8 L2,4 M4,-8 L-2,4"/><ellipse cx="-1.5" cy="6" rx="1.6" ry="2.6"/><ellipse cx="1.5" cy="6" rx="1.6" ry="2.6"/></g></g>
<g><line x1="919" y1="178.5" x2="937.7" y2="178.5" stroke="#e3262a" stroke-width="1.8"/><ellipse cx="917" cy="178" rx="3.6" ry="5" fill="#e9e9e9"/><ellipse cx="939.7" cy="178" rx="3.6" ry="5.2" fill="#cfe8bf"/><g transform="translate(928.00,190.00) rotate(32.0)"><path d="M0,0 q2.26,-3 4.72,0 t4.72,0 t4.72,0 L14.87,0" fill="none" stroke="#000" stroke-width="1.7"/><path d="M18.87,0 L12.87,-3.5 L14.37,0 L12.87,3.5 Z" fill="#000"/></g><ellipse cx="951.60" cy="207.00" rx="3.8" ry="5.5" fill="#e6e6e6"/><path d="M953.60,205.00 L960.60,201.50 M965.60,202.40 L971.60,205.40" stroke="#e3262a" stroke-width="1.3"/><circle cx="976.60" cy="208.40" r="13" fill="url(#glow)"/><circle cx="976.60" cy="208.40" r="6.8" fill="#7fc25c"/><circle cx="977.60" cy="206.90" r="3.2" fill="#b9e0a2"/><g transform="translate(963.00,217.00)" fill="none" stroke="#1c2b58" stroke-width="2.2" stroke-linecap="round"><path d="M-4,-8 L2,4 M4,-8 L-2,4"/><ellipse cx="-1.5" cy="6" rx="1.6" ry="2.6"/><ellipse cx="1.5" cy="6" rx="1.6" ry="2.6"/></g></g>
<g><line x1="877.8" y1="263.5" x2="896.8" y2="262.0" stroke="#e3262a" stroke-width="1.8"/><ellipse cx="875.8" cy="263" rx="3.6" ry="5" fill="#e9e9e9"/><ellipse cx="898.8" cy="261.5" rx="3.6" ry="5.2" fill="#cfe8bf"/><g transform="translate(885.80,277.00) rotate(33.8)"><path d="M0,0 q2.63,-3 5.48,0 t5.48,0 t5.48,0 L17.91,0" fill="none" stroke="#000" stroke-width="1.7"/><path d="M21.91,0 L15.91,-3.5 L17.41,0 L15.91,3.5 Z" fill="#000"/></g><ellipse cx="914.00" cy="297.70" rx="3.8" ry="5.5" fill="#e6e6e6"/><path d="M916.00,295.70 L923.00,292.20 M931.00,293.20 L937.00,296.20" stroke="#e3262a" stroke-width="1.3"/><circle cx="942.00" cy="299.20" r="13" fill="url(#glow)"/><circle cx="942.00" cy="299.20" r="6.8" fill="#7fc25c"/><circle cx="943.00" cy="297.70" r="3.2" fill="#b9e0a2"/><g transform="translate(927.30,307.00)" fill="none" stroke="#1c2b58" stroke-width="2.2" stroke-linecap="round"><path d="M-4,-8 L2,4 M4,-8 L-2,4"/><ellipse cx="-1.5" cy="6" rx="1.6" ry="2.6"/><ellipse cx="1.5" cy="6" rx="1.6" ry="2.6"/></g></g>
<g><line x1="815" y1="346.5" x2="835" y2="346.5" stroke="#e3262a" stroke-width="1.8"/><ellipse cx="813" cy="346" rx="3.6" ry="5" fill="#e9e9e9"/><ellipse cx="837" cy="346" rx="3.6" ry="5.2" fill="#cfe8bf"/><g transform="translate(824.00,358.00) rotate(37.4)"><path d="M0,0 q2.37,-3 4.94,0 t4.94,0 t4.94,0 L15.76,0" fill="none" stroke="#000" stroke-width="1.7"/><path d="M19.76,0 L13.76,-3.5 L15.26,0 L13.76,3.5 Z" fill="#000"/></g><ellipse cx="849.00" cy="375.00" rx="3.8" ry="5.5" fill="#e6e6e6"/><path d="M851.00,373.00 L858.00,369.50 M863.00,371.60 L869.00,374.60" stroke="#e3262a" stroke-width="1.3"/><circle cx="874.00" cy="377.60" r="13" fill="url(#glow)"/><circle cx="874.00" cy="377.60" r="6.8" fill="#7fc25c"/><circle cx="875.00" cy="376.10" r="3.2" fill="#b9e0a2"/><g transform="translate(859.50,384.00)" fill="none" stroke="#1c2b58" stroke-width="2.2" stroke-linecap="round"><path d="M-4,-8 L2,4 M4,-8 L-2,4"/><ellipse cx="-1.5" cy="6" rx="1.6" ry="2.6"/><ellipse cx="1.5" cy="6" rx="1.6" ry="2.6"/></g></g>
<line x1="974.5" y1="292.4" x2="1026" y2="292.4" stroke="#111" stroke-width="2.0"/>
<path d="M1032,292.4 L1024,286.4 L1026.5,292.4 L1024,298.4 Z" fill="#111"/>
<line x1="1063.7" y1="188.6" x2="1201.4" y2="188.6" stroke="#e39ac0" stroke-width="1" stroke-dasharray="4,3"/>
<line x1="1063.7" y1="188.6" x2="1063.7" y2="353" stroke="#4b8fc0" stroke-width="1.4"/>
<line x1="1063.7" y1="353" x2="1237.7" y2="353" stroke="#7ab3d6" stroke-width="1.6"/>
<path d="M1064,352.5 C1078,349 1087,322 1097,278 C1107,232 1120,210 1142,199 C1162,192 1178,191.5 1195,191.7" fill="none" stroke="#8a4b70" stroke-width="2.8" stroke-linecap="round"/>
<path d="M1064,352.5 L1092,352.5 C1104,352.5 1110,335 1116,305 C1125,272 1135,238 1152,217 C1166,205 1185,203.5 1198,203" fill="none" stroke="#8ccd5c" stroke-width="2.8" stroke-linecap="round"/>
<text id="h0" x="141.10" y="124" font-size="19" fill="#2e2422" textLength="37.10" lengthAdjust="spacingAndGlyphs">DNA</text>
<text id="h1" x="183.80" y="124" font-size="18.5" fill="#3f3431" textLength="41.00" lengthAdjust="spacing">提取</text>
<text id="h2" x="156.70" y="154.6" font-size="19" fill="#2e2422" textLength="38.70" lengthAdjust="spacingAndGlyphs">DNA</text>
<text id="h3" x="138.00" y="181" font-size="19" fill="#2e2422" textLength="75.50" lengthAdjust="spacingAndGlyphs">extraction</text>
<text id="h4" x="321.00" y="119.5" font-size="18.5" fill="#3f3431" textLength="82.00" lengthAdjust="spacing">通用引物</text>
<text id="h5" x="307.40" y="153.4" font-size="19" fill="#2e2422" textLength="72.60" lengthAdjust="spacingAndGlyphs">Universal</text>
<text id="h6" x="391.70" y="153.4" font-size="19" fill="#2e2422" textLength="50.40" lengthAdjust="spacingAndGlyphs">primer</text>
<text id="h7" x="345.80" y="179.7" font-size="19" fill="#2e2422" textLength="53.20" lengthAdjust="spacingAndGlyphs">S-RPA</text>
<text id="h8" x="53.80" y="373" font-size="19" fill="#3f3431" textLength="61.30" lengthAdjust="spacing">靶基因</text>
<text id="h9" x="38.60" y="398" font-size="19" fill="#2e2422" textLength="47.40" lengthAdjust="spacingAndGlyphs">Target</text>
<text id="h10" x="97.50" y="398" font-size="19" fill="#2e2422" textLength="43.60" lengthAdjust="spacingAndGlyphs">genes</text>
<text id="h11" x="190.80" y="383" font-size="19" fill="#2e2422" textLength="69.40" lengthAdjust="spacingAndGlyphs">dNTPαS</text>
<text id="h12" x="288.80" y="383" font-size="19" fill="#2e2422" textLength="43.60" lengthAdjust="spacingAndGlyphs">dNTP</text>
<text id="h13" x="489.90" y="391.1" font-size="19" fill="#3f3431" textLength="39.10" lengthAdjust="spacing">产物</text>
<text id="h14" x="534.70" y="391.1" font-size="19" fill="#2e2422" textLength="66.70" lengthAdjust="spacingAndGlyphs">Products</text>
<text id="h15" x="759.60" y="418.7" font-size="20" fill="#2e2422" textLength="56.40" lengthAdjust="spacingAndGlyphs">Cas12a</text>
<text id="h16" x="1103.80" y="375" font-size="19" fill="#3f3431" textLength="39.80" lengthAdjust="spacing">时间</text>
<text id="h17" x="1154.40" y="375" font-size="19" fill="#2e2422" textLength="39.70" lengthAdjust="spacingAndGlyphs">Time</text>
<text id="h18" x="1029.50" y="418.2" font-size="19" fill="#3f3431" textLength="82.60" lengthAdjust="spacing">信号输出</text>
<text id="h19" x="1121.50" y="418.2" font-size="19.5" fill="#2e2422" textLength="49.50" lengthAdjust="spacingAndGlyphs">Signal</text>
<text id="h20" x="1181.80" y="418.2" font-size="19.5" fill="#2e2422" textLength="57.10" lengthAdjust="spacingAndGlyphs">readout</text>
<text id="v0" transform="rotate(-90)" x="-379.80" y="1054" font-size="19" fill="#3f3431" textLength="62.40" lengthAdjust="spacing">荧光值</text>
<text id="v1" transform="rotate(-90)" x="-307.20" y="1054" font-size="19" fill="#2e2422" textLength="105.00" lengthAdjust="spacingAndGlyphs">Fluorescence</text>
<text id="v2" transform="rotate(-90)" x="-193.70" y="1054" font-size="19" fill="#2e2422" textLength="41.00" lengthAdjust="spacingAndGlyphs">value</text></svg>
</body></html>
